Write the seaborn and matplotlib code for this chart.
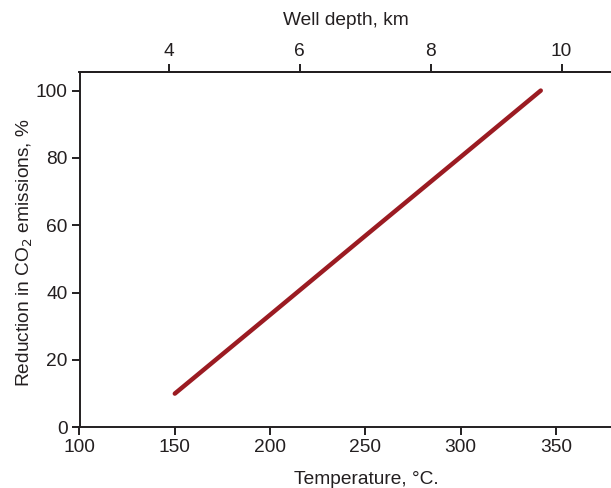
import matplotlib
matplotlib.use("Agg")
import matplotlib.pyplot as plt
import seaborn as sns
import pandas as pd

# Data
temperature_c = [150, 200, 250, 300, 342]
reduction_pct = [10, 33.4, 56.9, 80.3, 100]
x_ticks = [100, 150, 200, 250, 300, 350]
y_ticks = [0, 20, 40, 60, 80, 100]
depth_ticks = [4, 6, 8, 10]

# Temperature <-> well depth relation
SURFACE_T = 9.4
GRADIENT = 34.35  # degC per km

df = pd.DataFrame({"Temperature": temperature_c, "Reduction": reduction_pct})

sns.set_theme(style="ticks")
plt.rcParams["font.family"] = ["Liberation Sans", "DejaVu Sans"]
ink = "#231f20"
plt.rcParams.update({
    "text.color": ink, "axes.labelcolor": ink,
    "xtick.color": ink, "ytick.color": ink, "axes.edgecolor": ink,
})
FS = 13.8

fig = plt.figure(figsize=(6.11, 4.88), dpi=100)
ax = fig.add_axes([79.5 / 611, (488 - 427.3) / 488, 533.7 / 611, 355.6 / 488])

sns.lineplot(data=df, x="Temperature", y="Reduction", ax=ax,
             color="#9b1b22", linewidth=3.2, solid_capstyle="round")

ax.set_xlim(100, 380)
ax.set_ylim(0, 105.6)
ax.set_xticks(x_ticks)
ax.set_yticks(y_ticks)
for s in ax.spines.values():
    s.set_linewidth(1.4)
ax.spines["right"].set_visible(False)
ax.tick_params(axis="both", labelsize=FS, length=5.5, width=1.4, pad=3)

ax.set_xlabel("Temperature, °C.", fontsize=FS)
ax.xaxis.set_label_coords(0.537, -0.122)
ax.set_ylabel("Reduction in CO$_2$ emissions, %", fontsize=FS)
ax.yaxis.set_label_coords(-0.083, 0.49)

sec = ax.secondary_xaxis(
    "top",
    functions=(lambda t: (t - SURFACE_T) / GRADIENT,
               lambda d: d * GRADIENT + SURFACE_T))
sec.set_xticks(depth_ticks)
sec.tick_params(labelsize=FS, length=5.5, width=1.4, pad=3)
sec.spines["top"].set_linewidth(1.4)
sec.set_xlabel("Well depth, km", fontsize=FS, labelpad=13)

fig.savefig("out.png", dpi=100)
